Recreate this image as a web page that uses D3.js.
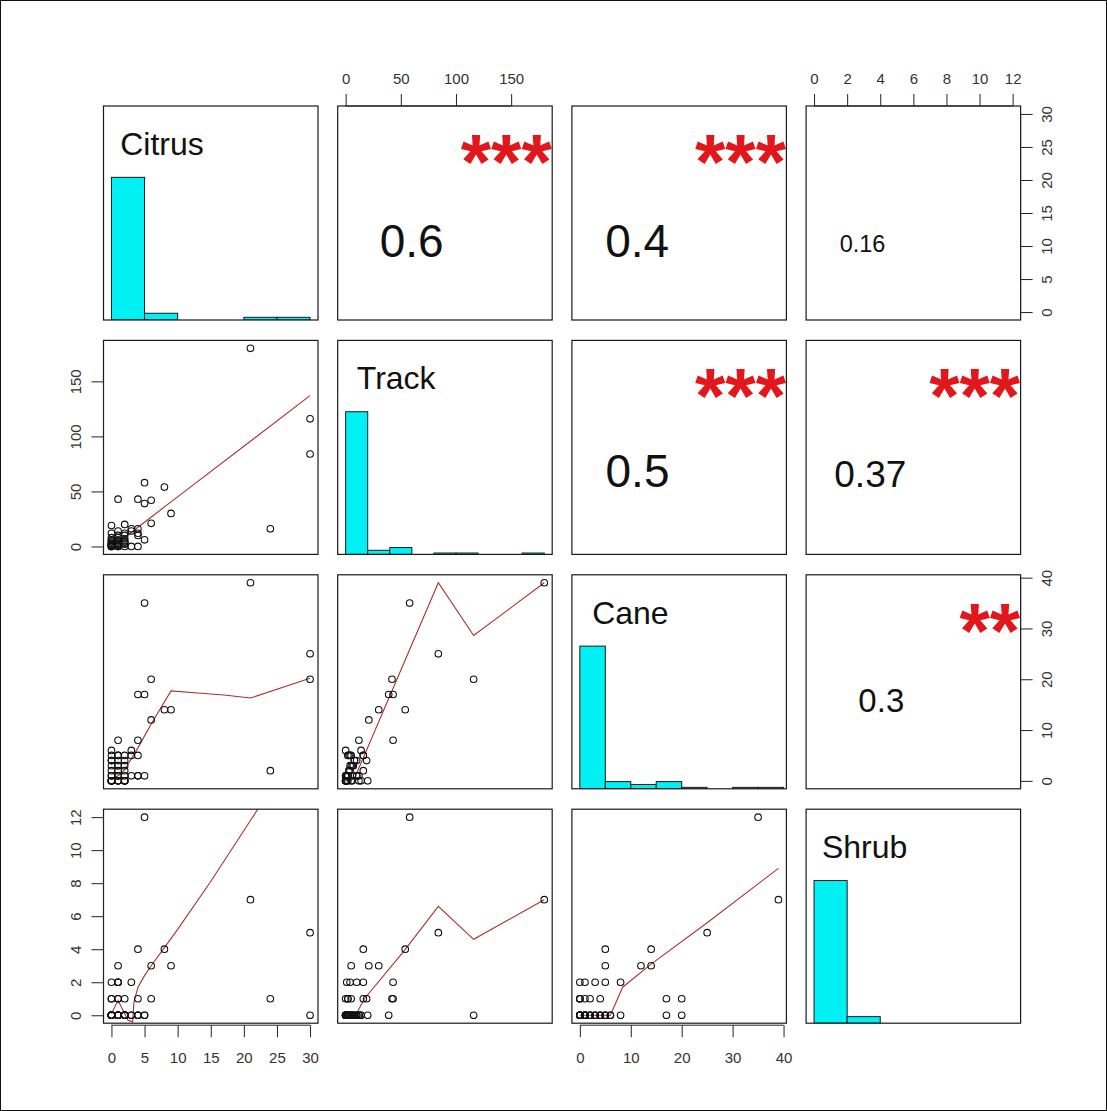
<!DOCTYPE html>
<html><head><meta charset="utf-8">
<script src="https://cdn.jsdelivr.net/npm/d3@7"></script>
<style>body{margin:0;background:#fff}svg{display:block}text{font-family:"Liberation Sans",Arial,sans-serif}</style>
</head><body><svg id="c" width="1107" height="1111"></svg>
<script>
// ---------------- DATA ----------------
const variables = ["Citrus", "Track", "Cane", "Shrub"];

const citrus = [21,30,30,24,5,8,1,4,5,6,9,6,4,4,1,3,0,0,2,4,5,3,4,3,0,1,1,1,2,
  0,0,0,0,0,0,0,0,0,1,1,1,1,1,1,1,2,2,2,2,2,2,2,0,1,0];
const track  = [180,116,84,16,58,54,43,43,39,42,30,21,12,16,5,16,0,19,20,10,6,0,0,14,1,10,4,2,5,
  0,1,2,3,5,8,4,12,6,0,1,3,6,8,2,14,0,2,4,7,10,3,12,0,0,2];
const cane   = [39,20,25,2,35,14,8,17,17,20,14,12,8,5,5,5,6,4,0,1,1,1,1,6,0,1,3,1,0,
  0,0,1,2,3,4,5,1,0,0,1,2,3,4,5,0,0,1,2,3,4,5,0,0,0,0];
const shrub  = [7,0,5,1,12,4,2,1,0,1,3,3,0,4,3,2,0,1,0,0,0,0,0,0,2,2,2,1,1,
  0,0,0,0,0,0,0,0,0,0,0,0,0,0,0,0,0,0,0,0,0,0,0,0,1,1];

// axis tick labels
const citrusTicks = [0, 5, 10, 15, 20, 25, 30];
const trackTicks  = [0, 50, 100, 150];
const caneTicks   = [0, 10, 20, 30, 40];
const shrubTicks  = [0, 2, 4, 6, 8, 10, 12];

// histogram breaks and counts (diagonal)
const citrusBreaks = [0, 5, 10, 15, 20, 25, 30];
const citrusCounts = [106, 5, 0, 0, 2, 2];
const trackBreaks  = [0, 20, 40, 60, 80, 100, 120, 140, 160, 180];
const trackCounts  = [104, 3, 5, 0, 1, 1, 0, 0, 1];
const caneBreaks   = [0, 5, 10, 15, 20, 25, 30, 35, 40];
const caneCounts   = [99, 5, 3, 5, 1, 0, 1, 1];
const shrubBreaks  = [0, 2, 4, 6, 8, 10, 12];
const shrubCounts  = [109, 5, 0, 0, 0, 0];

// upper panels: correlation text and significance
const corPairs  = [[0,1],[0,2],[0,3],[1,2],[1,3],[2,3]];
const corLabels = ["0.6", "0.4", "0.16", "0.5", "0.37", "0.3"];
const corStars  = ["***", "***", "", "***", "***", "**"];

// lower panels: smoothing lines (x, y in data units)
const smoothCitrusTrack = [[0,1],[2,8],[4,17.5],[9,40.5],[30,137]];
const smoothCitrusCane  = [[0,0.3],[1,1],[2,2.2],[4,6.5],[6,11.2],[9,17.7],[13,17.3],[17,16.9],[21,16.3],[30,20.2]];
const smoothTrackCane   = [[0,0],[8,0.5],[84,39],[116,28.6],[180,39]];
const smoothCitrusShrub = [[0,0.1],[1,0.9],[2.5,-0.3],[3.2,-0.4],[3.4,0.8],[4,1.7],[5,2.4],[6,3.0],[8,4.1],[10,5.2],[15,8.1],[21,11.8],[30,17.3]];
const smoothTrackShrub  = [[0,0],[9,0],[17,1],[53,3.9],[84,6.6],[116,4.6],[180,7]];
const smoothCaneShrub   = [[0,0],[6,0],[8.4,1.7],[14,3.1],[25,5.6],[39,8.9]];

// ---------------- LAYOUT ----------------
const cols = [citrus, track, cane, shrub];
const ticks = [citrusTicks, trackTicks, caneTicks, shrubTicks];
const breaks = [citrusBreaks, trackBreaks, caneBreaks, shrubBreaks];
const counts = [citrusCounts, trackCounts, caneCounts, shrubCounts];
const smooths = {"1-0": smoothCitrusTrack, "2-0": smoothCitrusCane, "2-1": smoothTrackCane,
                 "3-0": smoothCitrusShrub, "3-1": smoothTrackShrub, "3-2": smoothCaneShrub};

const X0 = 103.5, Y0 = 106, STEP_X = 234.2, STEP_Y = 234.4, PW = 214.5, PH = 214;
const px = i => X0 + i * STEP_X;
const py = j => Y0 + j * STEP_Y;

// data-range scales with R's 4% extension
const doms = cols.map(a => { const [lo, hi] = d3.extent(a); const e = (hi - lo) * 0.04; return [lo - e, hi + e]; });
const xs = cols.map((a, i) => d3.scaleLinear().domain(doms[i]).range([px(i), px(i) + PW]));
const ys = cols.map((a, j) => d3.scaleLinear().domain(doms[j]).range([py(j) + PH, py(j)]));

const svg = d3.select("#c");
svg.append("rect").attr("x", 0.5).attr("y", 0.5).attr("width", 1106).attr("height", 1110)
  .attr("fill", "#fff").attr("stroke", "#111").attr("stroke-width", 1);

const defs = svg.append("defs");
for (let j = 0; j < 4; j++) for (let i = 0; i < 4; i++) {
  defs.append("clipPath").attr("id", `clip-${j}-${i}`).append("rect")
    .attr("x", px(i)).attr("y", py(j)).attr("width", PW).attr("height", PH);
}

const corFont = [46, 46, 23.5, 46, 37, 33];
const corPos  = [[74,150.7],[65.3,150.7],[56.4,145.7],[65.6,146.7],[64.2,146.7],[75.2,136.7]];
const STAR_FS = 78;

for (let j = 0; j < 4; j++) for (let i = 0; i < 4; i++) {
  const g = svg.append("g");
  const clip = g.append("g").attr("clip-path", `url(#clip-${j}-${i})`);
  if (i === j) {
    // histogram
    const yh = d3.scaleLinear().domain([0, 1.5]).range([py(j) + PH, py(j)]);
    const mx = d3.max(counts[i]);
    const bars = counts[i].map((c, k) => ({x0: breaks[i][k], x1: breaks[i][k + 1], c})).filter(d => d.c > 0);
    clip.selectAll("rect.bar").data(bars).join("rect").attr("class", "bar")
      .attr("x", d => xs[i](d.x0)).attr("width", d => xs[i](d.x1) - xs[i](d.x0))
      .attr("y", d => yh(d.c / mx)).attr("height", d => yh(0) - yh(d.c / mx))
      .attr("fill", "#00f0f4").attr("stroke", "#1a1a1a").attr("stroke-width", 1);
    g.append("text").attr("x", px(i) + 58.5).attr("y", py(j) + 49)
      .attr("text-anchor", "middle").attr("font-size", 32).attr("fill", "#111").text(variables[i]);
  } else if (j > i) {
    // scatter (x = column variable, y = row variable)
    const pts = cols[i].map((v, k) => [v, cols[j][k]]);
    const line = d3.line().x(d => xs[i](d[0])).y(d => ys[j](d[1]));
    clip.append("path").datum(smooths[`${j}-${i}`]).attr("d", line)
      .attr("fill", "none").attr("stroke", "#a8332f").attr("stroke-width", 1.1);
    clip.selectAll("circle").data(pts).join("circle")
      .attr("cx", d => xs[i](d[0])).attr("cy", d => ys[j](d[1])).attr("r", 3.3)
      .attr("fill", "none").attr("stroke", "#111").attr("stroke-width", 1.1);
  } else {
    const k = corPairs.findIndex(p => p[0] === j && p[1] === i);
    g.append("text").attr("x", px(i) + corPos[k][0]).attr("y", py(j) + corPos[k][1])
      .attr("text-anchor", "middle").attr("font-size", corFont[k]).attr("fill", "#111").text(corLabels[k]);
    if (corStars[k]) {
      const t = clip.append("text").attr("font-size", STAR_FS).attr("font-weight", "bold")
        .attr("fill", "#e3161b").attr("y", py(j) + 83);
      // right edge aligned with a centred "***" at 0.8 of the panel
      const probe = svg.append("text").attr("font-size", STAR_FS).attr("font-weight", "bold").text("***");
      const w3 = probe.node().getComputedTextLength(); probe.remove();
      t.attr("x", px(i) + 0.8 * PW + w3 / 2 - 3).attr("text-anchor", "end").text(corStars[k]);
    }
  }
  g.append("rect").attr("x", px(i)).attr("y", py(j)).attr("width", PW).attr("height", PH)
    .attr("fill", "none").attr("stroke", "#1a1a1a").attr("stroke-width", 1.2);
}

// ---------------- AXES ----------------
const TICK = 12;
function styleAxis(sel) {
  sel.select(".domain").remove();
  sel.selectAll(".tick line").attr("stroke", "#222");
  sel.selectAll(".tick text").attr("fill", "#333").attr("font-size", 15)
    .attr("font-family", '"Liberation Sans",Arial,sans-serif');
}
function axisLine(x1, y1, x2, y2) {
  svg.append("line").attr("x1", x1).attr("y1", y1).attr("x2", x2).attr("y2", y2).attr("stroke", "#222");
}
// bottom: Citrus (col 0), Cane (col 2)
[0, 2].forEach(i => {
  const yb = py(3) + PH + 2;
  const a = svg.append("g").attr("transform", `translate(0,${yb})`)
    .call(d3.axisBottom(xs[i]).tickValues(ticks[i]).tickSize(TICK).tickPadding(15).tickFormat(d3.format("d")));
  styleAxis(a);
  axisLine(xs[i](ticks[i][0]), yb, xs[i](ticks[i][ticks[i].length - 1]), yb);
});
// top: Track (col 1), Shrub (col 3)
[1, 3].forEach(i => {
  const yt = py(0);
  const a = svg.append("g").attr("transform", `translate(0,${yt})`)
    .call(d3.axisTop(xs[i]).tickValues(ticks[i]).tickSize(TICK).tickPadding(10).tickFormat(d3.format("d")));
  styleAxis(a);
  axisLine(xs[i](ticks[i][0]), yt, xs[i](ticks[i][ticks[i].length - 1]), yt);
});
// left: Track (row 1), Shrub (row 3)
[1, 3].forEach(j => {
  const xl = px(0);
  const a = svg.append("g").attr("transform", `translate(${xl},0)`)
    .call(d3.axisLeft(ys[j]).tickValues(ticks[j]).tickSize(TICK).tickFormat(d3.format("d")));
  styleAxis(a);
  a.selectAll(".tick text").attr("text-anchor", "middle").attr("x", 0).attr("dy", null)
    .attr("transform", "translate(-28,0) rotate(-90)").attr("dominant-baseline", "central");
  axisLine(xl, ys[j](ticks[j][0]), xl, ys[j](ticks[j][ticks[j].length - 1]));
});
// right: Citrus (row 0), Cane (row 2)
[0, 2].forEach(j => {
  const xr = px(3) + PW;
  const a = svg.append("g").attr("transform", `translate(${xr},0)`)
    .call(d3.axisRight(ys[j]).tickValues(ticks[j]).tickSize(TICK).tickFormat(d3.format("d")));
  styleAxis(a);
  a.selectAll(".tick text").attr("text-anchor", "middle").attr("x", 0).attr("dy", null)
    .attr("transform", "translate(26,0) rotate(-90)").attr("dominant-baseline", "central");
  axisLine(xr, ys[j](ticks[j][0]), xr, ys[j](ticks[j][ticks[j].length - 1]));
});
</script></body></html>
